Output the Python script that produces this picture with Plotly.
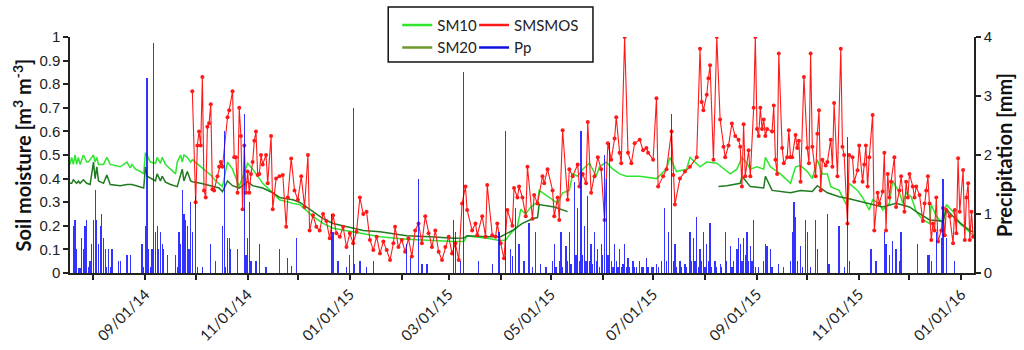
import pandas as pd
import plotly.graph_objects as go

START = "2014-07-18"  # day 0 of the record

# ---- SM10 (m3/m3), days since START
sm10_days = [0,1,2,3,4,5,6,8,10,11,14,15,16,17,20,22,24,27,30,34,36,37,39,42,44,45,48,51,52,54,55,57,60,63,64,66,67,68,70,72,73,78,81,84,87,91,94,97,101,106,109,115,121,125,133,137,145,151,157,165,175,185,201,215,229,235,237,249,257,260,263,267,269,272,275,279,280,286,291,294,298,300,303,306,310,314,316,320,324,328,332,340,350,356,358,362,368,370,376,380,386,394,398,401,404,406,410,414,415,418,424,430,433,436,440,443,446,449,452,454,459,464,465,470,473,477,479,483,485,489,491,495,497,499,502,505,509,513,514,517,521,523,527,531,537,539]
sm10 = [0.46,0.49,0.46,0.50,0.46,0.49,0.46,0.50,0.47,0.47,0.50,0.47,0.49,0.46,0.46,0.49,0.46,0.455,0.45,0.47,0.445,0.46,0.44,0.43,0.42,0.51,0.47,0.465,0.49,0.465,0.49,0.46,0.44,0.42,0.47,0.50,0.47,0.50,0.49,0.47,0.48,0.45,0.43,0.415,0.39,0.366,0.47,0.44,0.366,0.465,0.44,0.38,0.34,0.31,0.295,0.29,0.24,0.21,0.19,0.18,0.168,0.154,0.143,0.137,0.133,0.133,0.157,0.147,0.137,0.14,0.168,0.196,0.27,0.25,0.28,0.30,0.35,0.32,0.295,0.34,0.35,0.42,0.41,0.44,0.465,0.41,0.45,0.47,0.44,0.42,0.41,0.41,0.40,0.44,0.49,0.43,0.44,0.49,0.45,0.47,0.465,0.42,0.44,0.49,0.465,0.44,0.45,0.44,0.49,0.45,0.42,0.38,0.45,0.455,0.43,0.40,0.48,0.42,0.42,0.366,0.35,0.28,0.38,0.35,0.32,0.267,0.31,0.295,0.267,0.295,0.39,0.34,0.295,0.34,0.323,0.26,0.225,0.21,0.29,0.24,0.21,0.29,0.26,0.21,0.175,0.16]

# ---- SM20 (m3/m3), days since START (None = missing)
sm20_days = [0,1,2,4,5,6,8,10,12,14,15,16,17,20,22,24,30,34,37,42,44,45,46,51,52,54,55,57,60,64,67,68,70,72,73,78,84,89,91,94,97,101,106,109,115,121,125,133,137,145,151,157,165,175,185,201,215,229,235,237,249,257,264,270,276,279,280,289,297,298,387,392,400,401,406,414,415,419,430,436,443,446,452,459,465,473,479,485,493,501,505,513,521,523,529,537,539]
sm20 = [0.38,0.38,0.395,0.38,0.39,0.38,0.395,0.38,0.375,0.47,0.40,0.45,0.39,0.38,0.415,0.375,0.37,0.375,0.375,0.365,0.36,0.45,0.41,0.39,0.42,0.39,0.41,0.385,0.375,0.366,0.44,0.39,0.43,0.39,0.387,0.38,0.37,0.36,0.345,0.39,0.37,0.36,0.387,0.37,0.36,0.34,0.32,0.31,0.30,0.26,0.23,0.21,0.196,0.18,0.175,0.158,0.154,0.147,0.148,0.158,0.154,0.154,0.18,0.21,0.23,0.235,0.29,0.28,0.26,None,0.366,0.37,0.38,0.41,0.366,0.36,0.41,0.35,0.34,0.35,0.345,0.37,0.34,0.323,0.315,0.30,0.29,0.28,0.295,0.28,0.26,0.225,0.22,0.27,0.225,0.18,0.175]

# ---- SMSMOS (m3/m3), days since START
smos_days = [73,75,76,77,78,79,80,81,82,83,84,85,86,88,89,90,91,94,95,97,98,99,100,101,102,103,104,105,106,107,108,109,110,111,112,113,114,115,117,118,120,121,123,125,127,129,130,132,134,136,138,140,142,143,145,147,149,151,153,155,157,159,161,163,165,167,169,171,173,175,177,179,181,183,185,187,189,191,193,194,196,198,200,202,204,206,208,210,212,214,216,218,220,222,224,226,228,230,232,234,236,237,240,242,243,246,248,249,252,254,255,257,259,261,264,265,267,268,270,272,273,276,277,279,282,283,285,288,289,291,292,294,297,298,300,303,304,306,308,309,311,313,315,317,319,321,323,325,326,328,329,331,333,335,337,340,342,344,345,348,350,351,354,356,359,360,361,364,367,370,374,376,377,378,380,381,382,384,386,388,390,391,393,395,397,399,400,401,402,403,405,406,408,409,410,411,412,413,414,415,416,419,420,421,422,423,425,426,428,429,430,431,433,434,435,436,438,440,441,442,443,445,446,447,448,449,451,452,454,455,456,458,460,461,462,464,465,467,468,470,471,473,474,475,476,477,479,480,482,483,485,486,487,488,489,490,492,493,495,496,498,499,500,501,503,504,505,507,509,510,511,512,513,514,515,516,517,518,520,521,522,523,525,527,528,529,530,531,533,534,535,536,537,538,539]
smos = [0.77,0.30,0.54,0.60,0.54,0.83,0.35,0.32,0.62,0.635,0.715,0.355,0.35,0.41,0.45,0.47,0.45,0.66,0.69,0.77,0.49,0.49,0.34,0.70,0.58,0.27,0.54,0.34,0.43,0.34,0.42,0.47,0.56,0.60,0.415,0.42,0.50,0.46,0.50,0.38,0.58,0.27,0.40,0.41,0.415,0.196,0.32,0.485,0.35,0.31,0.41,0.28,0.50,0.18,0.245,0.196,0.18,0.25,0.22,0.147,0.245,0.168,0.154,0.196,0.11,0.168,0.126,0.175,0.32,0.25,0.26,0.14,0.097,0.154,0.083,0.133,0.097,0.055,0.126,0.196,0.11,0.14,0.09,0.147,0.07,0.18,0.21,0.126,0.24,0.168,0.11,0.18,0.09,0.055,0.11,0.154,0.083,0.126,0.055,0.295,0.366,0.267,0.18,0.21,0.16,0.24,0.154,0.373,0.16,0.154,0.21,0.126,0.062,0.267,0.20,0.36,0.32,0.366,0.32,0.24,0.45,0.23,0.33,0.295,0.41,0.38,0.44,0.35,0.24,0.32,0.225,0.605,0.31,0.44,0.41,0.46,0.366,0.42,0.38,0.64,0.34,0.41,0.49,0.44,0.225,0.55,0.48,0.57,0.66,0.51,0.465,1.0,0.51,0.465,0.55,0.565,0.52,0.53,0.51,0.48,0.74,0.366,0.41,0.44,0.60,0.415,0.29,0.40,0.43,0.45,0.49,0.95,0.725,0.69,0.755,0.825,0.88,0.48,1.0,0.65,0.535,0.49,0.54,0.634,0.58,0.565,0.535,0.366,0.63,0.41,0.52,0.41,0.70,1.0,0.61,0.58,0.70,0.61,0.65,0.58,0.61,0.60,0.71,0.48,0.42,0.93,0.53,0.465,0.49,0.605,0.49,0.49,0.585,0.53,0.56,0.387,0.83,0.53,0.465,0.93,0.535,0.41,0.59,0.69,0.35,0.48,0.455,0.47,0.565,0.45,0.72,0.41,0.95,0.535,0.50,0.21,0.50,0.49,0.387,0.435,0.54,0.387,0.46,0.54,0.366,0.49,0.67,0.18,0.34,0.295,0.345,0.51,0.18,0.42,0.32,0.387,0.49,0.28,0.35,0.41,0.26,0.387,0.32,0.42,0.366,0.32,0.366,0.33,0.22,0.295,0.35,0.41,0.295,0.14,0.21,0.18,0.32,0.133,0.18,0.275,0.16,0.267,0.24,0.126,0.267,0.168,0.486,0.26,0.436,0.14,0.32,0.38,0.14,0.26,0.154]

# ---- Pp (mm), days since START
pp_days = [2,3,4,5,6,7,8,9,10,11,12,13,14,15,16,17,18,19,20,21,22,23,24,25,29,30,34,36,43,44,45,46,47,48,49,50,51,52,53,54,55,56,58,63,64,65,66,67,68,69,70,71,72,73,75,76,79,84,87,91,92,93,94,95,96,100,104,105,106,107,108,111,113,117,125,130,132,135,156,157,160,165,167,169,170,173,177,181,201,203,208,210,213,229,230,233,235,244,252,256,260,263,264,266,268,271,274,276,278,281,284,288,289,290,292,293,294,296,297,298,299,301,302,303,304,305,306,307,308,309,310,311,312,313,314,315,316,317,318,319,320,321,322,323,324,325,326,327,328,329,330,331,332,333,334,336,337,338,340,341,342,344,345,347,348,350,351,353,355,356,357,359,360,361,362,364,365,367,368,370,371,372,373,374,375,376,377,378,379,380,381,382,383,385,386,388,389,391,392,394,395,396,398,399,400,401,402,403,404,405,406,407,408,409,411,414,415,416,418,419,423,426,430,431,432,433,434,436,437,439,440,442,445,446,452,453,459,462,464,465,478,481,486,487,489,491,493,495,496,506,512,513,514,517,520,521,523,528]
pp = [0.8,0.9,0.4,0.08,0.08,0.6,0.4,0.8,0.9,0.1,0.2,0.5,0.9,1.4,0.9,0.5,0.8,1.0,0.6,0.4,0.1,0.4,0.1,0.4,0.2,0.2,0.3,0.3,0.5,0.1,0.8,3.3,0.4,0.1,0.4,3.9,0.7,0.8,0.4,0.7,0.5,0.4,0.3,0.3,0.1,0.7,0.5,1.4,1.0,0.9,0.8,0.4,1.2,0.7,1.3,0.1,0.1,0.5,0.2,0.8,2.4,0.1,0.6,0.6,0.4,0.4,2.7,0.3,0.6,1.2,0.2,0.2,0.5,0.1,0.4,0.25,0.12,0.6,1.0,0.7,0.2,0.1,0.3,2.8,0.15,0.2,0.1,0.2,0.5,0.25,1.6,0.15,0.15,0.9,0.7,0.2,3.4,0.2,0.15,0.7,2.4,0.4,0.28,1.1,0.5,0.2,0.85,0.1,0.7,0.15,0.1,0.2,0.5,0.1,0.2,0.7,0.1,0.45,0.2,0.7,0.15,1.55,0.3,1.1,0.2,2.4,0.3,0.8,0.2,1.3,0.2,0.5,0.15,0.7,0.2,0.4,0.1,0.5,0.3,2.0,1.6,0.3,2.2,0.2,0.1,0.5,0.2,0.1,0.4,0.1,0.15,0.5,0.1,0.25,0.1,0.2,0.1,0.1,0.2,0.1,0.1,0.25,0.1,0.1,0.1,0.15,0.1,0.2,1.1,0.2,0.7,2.7,0.2,0.5,0.1,0.2,0.1,0.15,0.1,0.7,0.2,0.6,0.2,0.95,0.1,0.4,0.2,0.7,0.1,0.5,0.2,0.85,0.1,0.2,0.1,0.15,0.1,0.7,0.2,0.45,0.1,0.2,0.4,0.6,0.5,0.2,0.6,0.3,0.7,0.2,0.45,0.2,0.9,0.1,0.1,0.2,0.5,0.45,0.4,0.1,0.15,0.1,0.2,0.7,1.2,0.95,0.2,0.45,0.1,0.9,0.7,0.1,0.9,0.4,1.0,0.15,0.8,0.1,2.3,0.2,0.4,0.2,0.7,0.5,0.3,0.55,0.4,0.2,0.7,0.5,0.3,0.3,0.2,0.7,0.6,1.6,0.6,0.2]

# ---- x ticks: labelled every second month, minor tick every month
tick_dates = ["2014-09-01","2014-11-01","2015-01-01","2015-03-01","2015-05-01","2015-07-01","2015-09-01","2015-11-01","2016-01-01"]
tick_labels = ["09/01/14","11/01/14","01/01/15","03/01/15","05/01/15","07/01/15","09/01/15","11/01/15","01/01/16"]
minor_dates = ["2014-08-01","2014-10-01","2014-12-01","2015-02-01","2015-04-01","2015-06-01","2015-08-01","2015-10-01","2015-12-01"]


def to_dates(days):
    return pd.Timestamp(START) + pd.to_timedelta(days, unit="D")


C_SM10 = "#2ee62e"
C_SM20 = "#1e7b1e"
C_SM20_LEG = "#6b9a2a"
C_SMOS = "#ff1a1a"
C_PP = "rgba(0,0,255,0.8)"

fig = go.Figure()

fig.add_trace(go.Scatter(x=to_dates(sm10_days), y=sm10, mode="lines",
                         line=dict(color=C_SM10, width=1.5), showlegend=False))
fig.add_trace(go.Scatter(x=to_dates(sm20_days), y=sm20, mode="lines", connectgaps=False,
                         line=dict(color=C_SM20, width=1.5), showlegend=False))
fig.add_trace(go.Scatter(x=to_dates(smos_days), y=smos, mode="lines+markers",
                         line=dict(color=C_SMOS, width=1.1),
                         marker=dict(color=C_SMOS, size=4), showlegend=False))
fig.add_trace(go.Bar(x=to_dates(pp_days), y=pp, yaxis="y2",
                     width=0.75 * 86400000, marker=dict(color=C_PP, line=dict(width=0)),
                     showlegend=False))

# legend entries
leg_font = dict(family="Lato", size=15, color="#222")
for name, col, lg in [("SM10", C_SM10, "legend"), ("SM20", C_SM20_LEG, "legend"),
                      ("SMSMOS", C_SMOS, "legend2"), ("Pp", "#1010e0", "legend2")]:
    fig.add_trace(go.Scatter(x=[None], y=[None], mode="lines", name=name,
                             line=dict(color=col, width=2.5), legend=lg))

axis_common = dict(ticks="outside", ticklen=5, tickwidth=1.5, tickcolor="#222",
                   showline=True, linecolor="#222", linewidth=1.5,
                   showgrid=False, zeroline=False, automargin=False)

fig.update_layout(
    width=1024, height=350,
    margin=dict(l=70, r=50, t=37, b=77, autoexpand=False),
    paper_bgcolor="white", plot_bgcolor="white",
    bargap=0,
    legend=dict(x=0.362, y=1.12, xanchor="left", yanchor="top", font=leg_font,
                bgcolor="rgba(0,0,0,0)", tracegroupgap=0),
    legend2=dict(x=0.447, y=1.12, xanchor="left", yanchor="top", font=leg_font,
                 bgcolor="rgba(0,0,0,0)", tracegroupgap=0),
    xaxis=dict(type="date", range=["2014-07-18", "2016-01-08 12:00"],
               tickmode="array", tickvals=tick_dates, ticktext=tick_labels, tickangle=-45,
               minor=dict(tickmode="array", tickvals=minor_dates, ticks="outside",
                          ticklen=5, tickwidth=1.5, tickcolor="#222", showgrid=False),
               tickfont=dict(family="Lato", size=15, color="#222"), **axis_common),
    yaxis=dict(range=[0, 1], dtick=0.1, tick0=0,
               tickfont=dict(family="Liberation Sans", size=15, color="#222"),
               title=dict(text="<b>Soil moisture [m<sup>3</sup> m<sup>-3</sup>]</b>",
                          font=dict(family="Lato", size=20, color="#111"), standoff=2),
               **axis_common),
    yaxis2=dict(overlaying="y", side="right", range=[0, 4], dtick=1, tick0=0,
                tickfont=dict(family="Liberation Sans", size=15, color="#222"),
                title=dict(text="<b>Precipitation [mm]</b>",
                           font=dict(family="Lato", size=20, color="#111"), standoff=4),
                **axis_common),
    shapes=[dict(type="rect", xref="paper", yref="paper",
                 x0=0.352, x1=0.5785, y0=0.894, y1=1.127,
                 line=dict(color="#111", width=1.5), fillcolor="rgba(0,0,0,0)")],
)

fig.write_html("out.html", config={"displayModeBar": False},
               post_script="document.body.style.margin='0px';document.body.style.padding='0px';")
